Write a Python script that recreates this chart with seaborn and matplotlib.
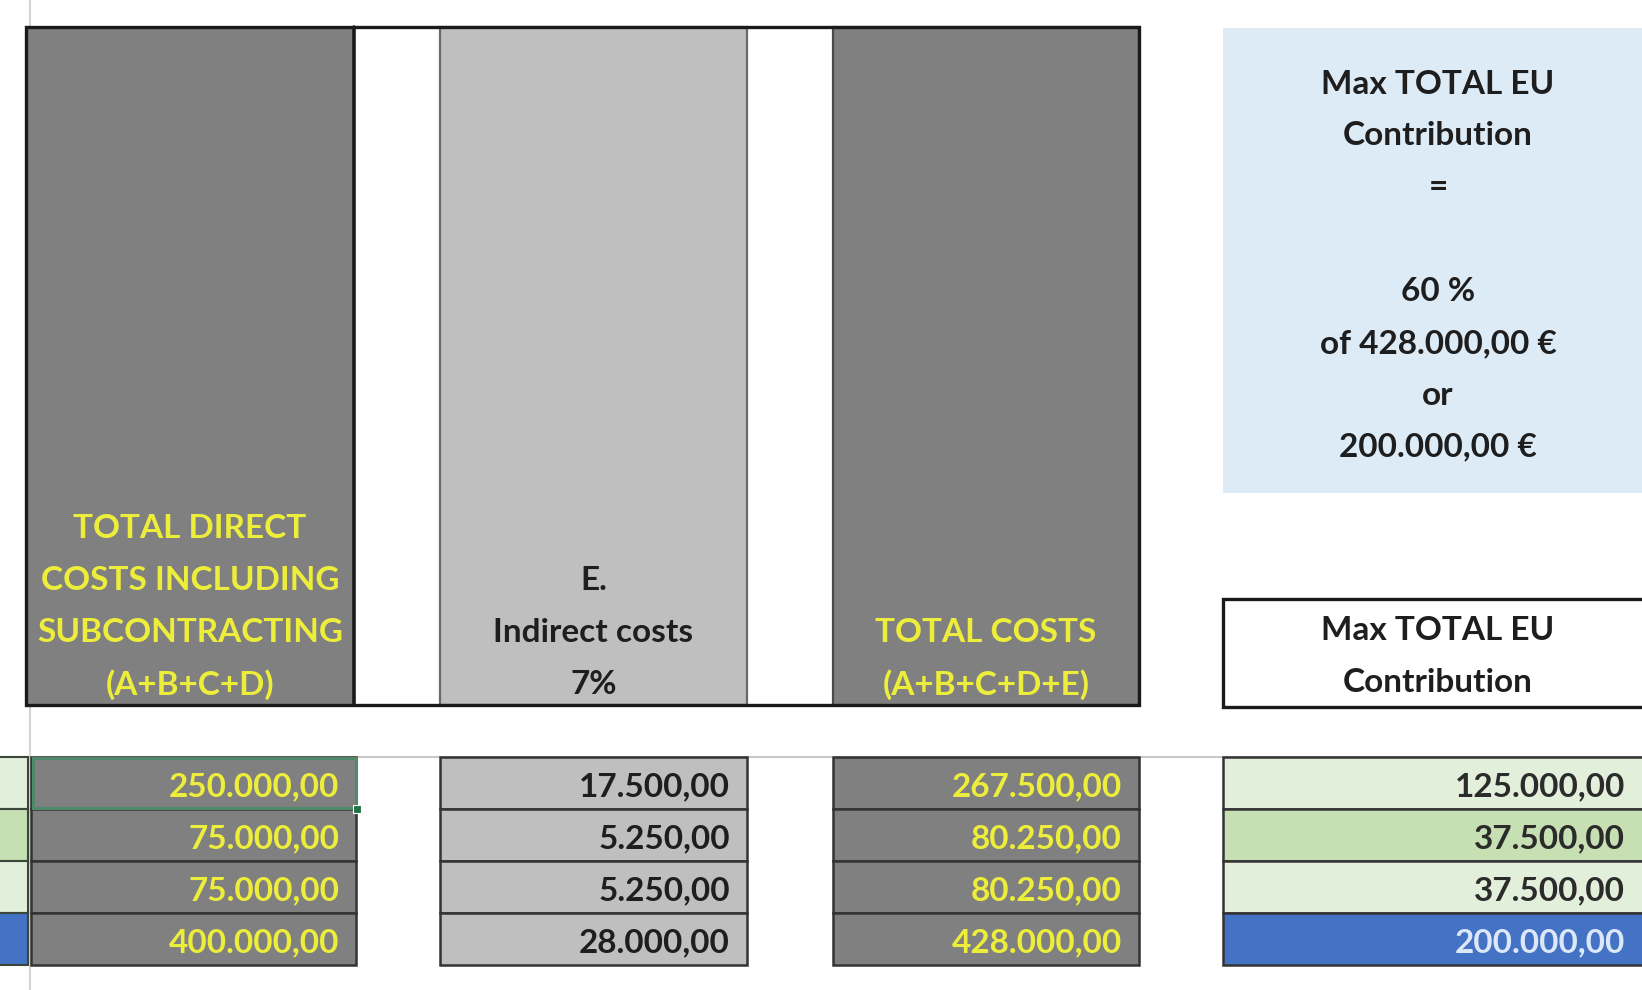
import matplotlib
matplotlib.use("Agg")
import matplotlib.pyplot as plt
from matplotlib.patches import Rectangle
import seaborn as sns

# values of the four data rows
direct_costs = [250000, 75000, 75000, 400000]
indirect_costs = [17500, 5250, 5250, 28000]
total_costs = [267500, 80250, 80250, 428000]
eu_contribution = [125000, 37500, 37500, 200000]

# header texts
header_direct = ["TOTAL DIRECT", "COSTS INCLUDING", "SUBCONTRACTING", "(A+B+C+D)"]
header_indirect = ["E.", "Indirect costs", "7%"]
header_total = ["TOTAL COSTS", "(A+B+C+D+E)"]
header_eu = ["Max TOTAL EU", "Contribution"]
note_eu = ["Max TOTAL EU", "Contribution", "=", "", "60 %",
           "of 428.000,00 €", "or", "200.000,00 €"]

# row fills of the EU column (also seen in the cut-off column on the left)
eu_fills = ["#E2EFDA", "#C6E0B4", "#E2EFDA", "#4472C4"]
eu_text = ["#2b2b2b", "#2b2b2b", "#2b2b2b", "#DCE8F7"]

DARK = "#808080"
LIGHT = "#BFBFBF"
YELLOW = "#EDED3C"


def eur(v):
    s = f"{v:,.2f}"
    return s.replace(",", "X").replace(".", ",").replace("X", ".")


sns.set_theme(style="white")
plt.rcParams["font.family"] = ["Lato", "DejaVu Sans"]

fig = plt.figure(figsize=(16.42, 9.9), dpi=100)
ax = fig.add_axes([0, 0, 1, 1])
ax.set_xlim(0, 1642)
ax.set_ylim(990, 0)
ax.axis("off")

# sheet grid remnants
ax.plot([30, 30], [0, 990], color="#D4D4D4", lw=1.5, zorder=1)
ax.plot([0, 1642], [757, 757], color="#C8C8C8", lw=1.5, zorder=1)

# header block: column spans in pixels
col_a = (26, 354)
col_b = (440, 747)
col_c = (833, 1139)
col_d = (1223, 1680)
head_top, head_bot = 27, 705

ax.add_patch(Rectangle((col_a[0], head_top), col_a[1] - col_a[0], head_bot - head_top,
                       facecolor=DARK, edgecolor="none", zorder=2))
ax.add_patch(Rectangle((col_b[0], head_top), col_b[1] - col_b[0], head_bot - head_top,
                       facecolor=LIGHT, edgecolor="#6A6A6A", lw=1.6, zorder=2))
ax.add_patch(Rectangle((col_c[0], head_top), col_c[1] - col_c[0], head_bot - head_top,
                       facecolor=DARK, edgecolor="#4A4A4A", lw=1.6, zorder=2))
# outer black frame and the thick divider after the first column
ax.add_patch(Rectangle((col_a[0], head_top), col_c[1] - col_a[0], head_bot - head_top,
                       facecolor="none", edgecolor="#1A1A1A", lw=2.4, zorder=3))
ax.plot([col_a[1], col_a[1]], [head_top, head_bot], color="#1A1A1A", lw=2.6, zorder=3)

pitch = 52
line_bottom = 685
FS = 24


def header_lines(lines, cx, color):
    n = len(lines)
    for i, t in enumerate(lines):
        y = line_bottom - (n - 1 - i) * pitch
        ax.text(cx, y, t, ha="center", va="center", fontsize=FS,
                fontweight="bold", color=color, zorder=4)


header_lines(header_direct, sum(col_a) / 2, YELLOW)
header_lines(header_indirect, sum(col_b) / 2, "#1E1E1E")
header_lines(header_total, sum(col_c) / 2, YELLOW)

# light blue note box
ax.add_patch(Rectangle((col_d[0], 28), col_d[1] - col_d[0], 493 - 28,
                       facecolor="#DDEBF7", edgecolor="none", zorder=2))
for i, t in enumerate(note_eu):
    ax.text(1438, 84 + i * 51.9, t, ha="center", va="center", fontsize=FS,
            fontweight="bold", color="#1E1E1E", zorder=4)

# white header box for the EU column
ax.add_patch(Rectangle((col_d[0], 599), col_d[1] - col_d[0], 707 - 599,
                       facecolor="white", edgecolor="#1A1A1A", lw=2.4, zorder=3))
for i, t in enumerate(header_eu):
    ax.text(1438, 630 + i * 53, t, ha="center", va="center", fontsize=FS,
            fontweight="bold", color="#1E1E1E", zorder=4)

# data rows
row_top, row_h = 757, 52
pad = 17
cols = [
    ((31, 356), direct_costs, [DARK] * 4, [YELLOW] * 4),
    (col_b, indirect_costs, [LIGHT] * 4, ["#1E1E1E"] * 4),
    (col_c, total_costs, [DARK] * 4, [YELLOW] * 4),
    ((col_d[0], 1642 + 40), eu_contribution, eu_fills, eu_text),
]
for (x0, x1), vals, fills, tcols in cols:
    for r, v in enumerate(vals):
        y0 = row_top + r * row_h
        ax.add_patch(Rectangle((x0, y0), x1 - x0, row_h, facecolor=fills[r],
                               edgecolor="#333333", lw=1.8, zorder=2))
        right = min(x1, 1642) - pad
        ax.text(right, y0 + row_h / 2 + 4, eur(v), ha="right", va="center",
                fontsize=FS, fontweight="bold", color=tcols[r], zorder=4)

# cut-off column on the far left
for r, f in enumerate(eu_fills):
    ax.add_patch(Rectangle((-10, row_top + r * row_h), 38, row_h, facecolor=f,
                           edgecolor="#3A463A", lw=1.5, zorder=2))

# selected cell outline
ax.add_patch(Rectangle((33, row_top + 1), 323, row_h - 2, facecolor="none",
                       edgecolor="#4E8A6A", lw=2.2, zorder=5))
ax.add_patch(Rectangle((353, row_top + row_h - 4), 8, 8, facecolor="#217346",
                       edgecolor="white", lw=0.8, zorder=6))

fig.savefig("out.png", dpi=100, facecolor="white")
